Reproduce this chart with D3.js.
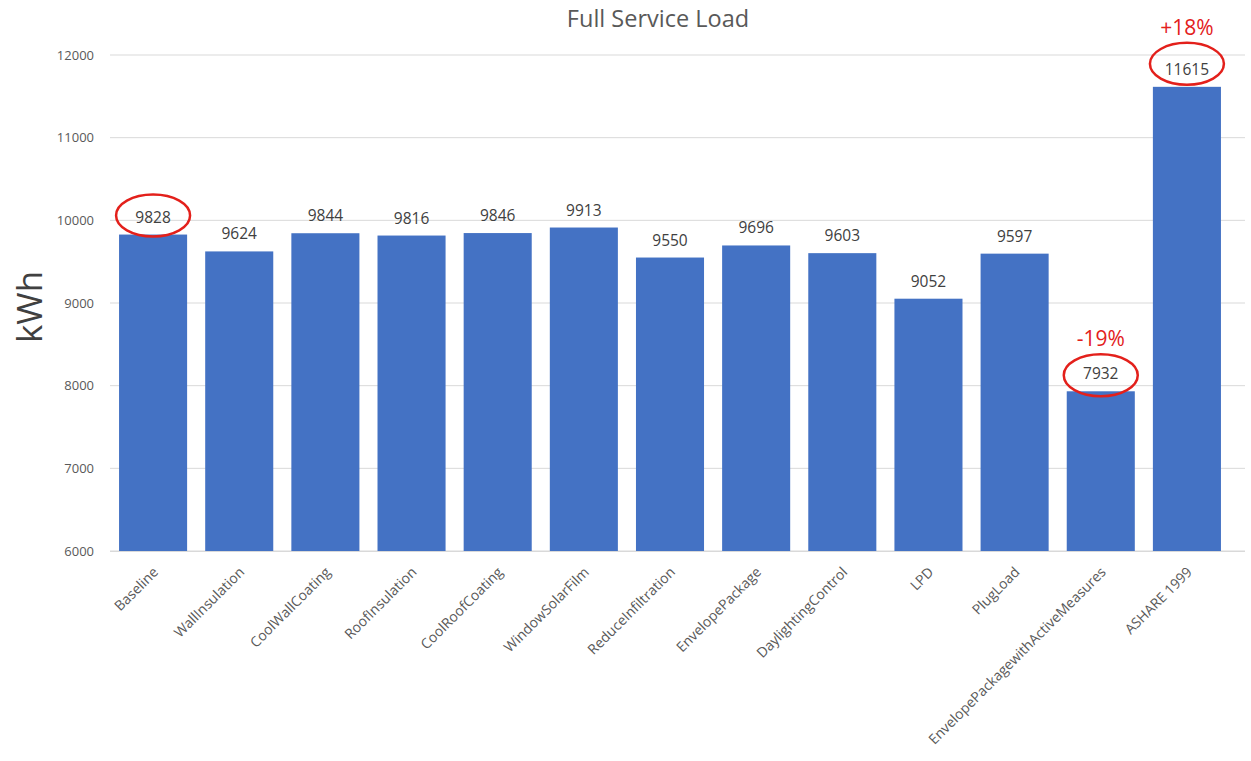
<!DOCTYPE html>
<html><head><meta charset="utf-8">
<script src="https://cdn.jsdelivr.net/npm/d3@7"></script>
<style>
body{margin:0;background:#fff;}
svg{display:block;font-family:"Open Sans","Noto Sans",sans-serif;}
</style></head>
<body><svg id="c" width="1251" height="761"></svg>
<script>
const categories = ["Baseline","WallInsulation","CoolWallCoating","RoofInsulation","CoolRoofCoating","WindowSolarFilm","ReduceInfiltration","EnvelopePackage","DaylightingControl","LPD","PlugLoad","EnvelopePackagewithActiveMeasures","ASHARE 1999"];
const values = [9828,9624,9844,9816,9846,9913,9550,9696,9603,9052,9597,7932,11615];
const yTicks = [6000,7000,8000,9000,10000,11000,12000];
const highlights = [
  {cat:"Baseline", note:"", dy:-19},
  {cat:"EnvelopePackagewithActiveMeasures", note:"-19%", dy:-16},
  {cat:"ASHARE 1999", note:"+18%", dy:-23}
];

const svg = d3.select("#c");
const plotL = 110, plotR = 1230, plotT = 55, plotB = 551;
const x = d3.scaleBand().domain(categories).range([plotL, plotR]).paddingInner(0.21).paddingOuter(0.105);
const y = d3.scaleLinear().domain([6000, 12000]).range([plotB, plotT]);

// gridlines
svg.append("g").selectAll("line").data(yTicks).join("line")
  .attr("x1", plotL).attr("x2", 1245)
  .attr("y1", d => y(d)).attr("y2", d => y(d))
  .attr("stroke", "#d9d9d9").attr("stroke-width", 1);

// y axis labels
const ya = svg.append("g").attr("transform", `translate(${plotL-16},0)`)
  .call(d3.axisLeft(y).tickValues(yTicks).tickSize(0).tickPadding(0).tickFormat(d3.format("d")));
ya.select(".domain").remove();
ya.selectAll("text").attr("fill", "#595959").style("font-size", "13px").style("font-family", "'Open Sans',sans-serif");

// bars
svg.append("g").selectAll("rect").data(categories).join("rect")
  .attr("x", d => x(d)).attr("width", x.bandwidth())
  .attr("y", (d,i) => y(values[i])).attr("height", (d,i) => plotB - y(values[i]))
  .attr("fill", "#4472C4");

// baseline axis line
svg.append("line").attr("x1", plotL).attr("x2", 1245).attr("y1", plotB + 0.5).attr("y2", plotB + 0.5)
  .attr("stroke", "#d9d9d9");

// value labels
svg.append("g").selectAll("text").data(categories).join("text")
  .attr("x", d => x(d) + x.bandwidth()/2)
  .attr("y", (d,i) => y(values[i]) - 12)
  .attr("text-anchor", "middle")
  .attr("fill", "#404040").style("font-size", "15.5px")
  .text((d,i) => values[i]);

// x category labels
const xa = svg.append("g").attr("transform", `translate(0,${plotB})`)
  .call(d3.axisBottom(x).tickSize(0).tickPadding(0));
xa.select(".domain").remove();
xa.selectAll("text")
  .attr("fill", "#595959").style("font-size", "14px").style("font-family", "'Open Sans',sans-serif")
  .attr("text-anchor", "end").attr("dy", null).attr("y", 0)
  .attr("transform", "translate(6,22) rotate(-45)");

// highlight ellipses
highlights.forEach(h => {
  const i = categories.indexOf(h.cat);
  const cx = x(h.cat) + x.bandwidth()/2;
  const cy = y(values[i]) + h.dy;
  svg.append("ellipse").attr("cx", cx).attr("cy", cy).attr("rx", 37).attr("ry", 21)
    .attr("fill", "none").attr("stroke", "#e3201b").attr("stroke-width", 2.5);
  if (h.note) {
    svg.append("text").attr("x", cx).attr("y", cy - 29).attr("text-anchor", "middle")
      .attr("fill", "#e3201b").style("font-size", "21px").text(h.note);
  }
});

// title
svg.append("text").attr("x", 658).attr("y", 27).attr("text-anchor", "middle")
  .attr("fill", "#595959").style("font-size", "23.5px").text("Full Service Load");

// y label
svg.append("text").attr("transform", "translate(42,307) rotate(-90)").attr("text-anchor", "middle")
  .attr("fill", "#404040").style("font-size", "35px").text("kWh");
</script></body></html>
